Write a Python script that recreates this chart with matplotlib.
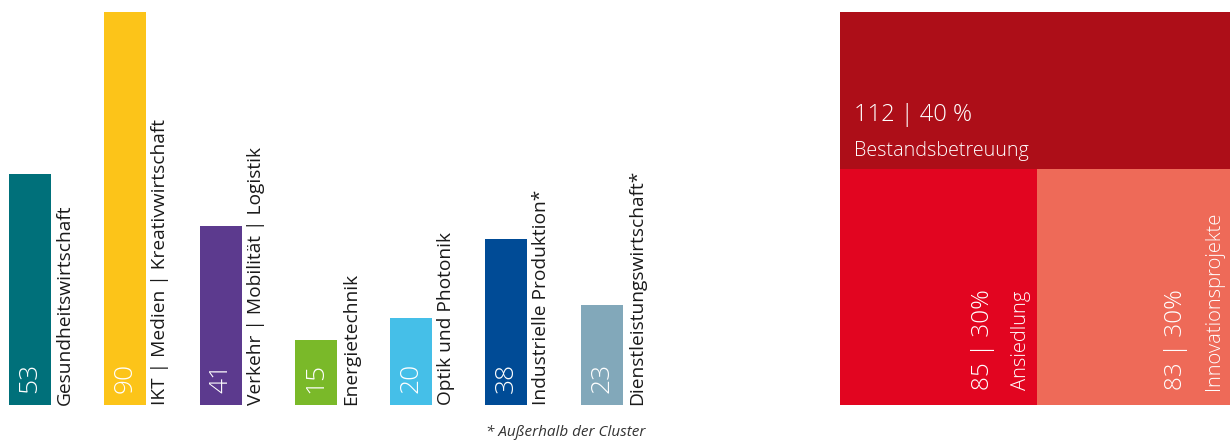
import matplotlib
matplotlib.use("Agg")
import matplotlib.pyplot as plt
from matplotlib.patches import Rectangle

plt.rcParams['font.family'] = ['Open Sans', 'DejaVu Sans']

categories = ["Gesundheitswirtschaft", "IKT | Medien | Kreativwirtschaft",
              "Verkehr | Mobilität | Logistik", "Energietechnik",
              "Optik und Photonik", "Industrielle Produktion*",
              "Dienstleistungswirtschaft*"]
values = [53, 90, 41, 15, 20, 38, 23]
bar_colors = ["#00707A", "#FCC419", "#5C3A8E", "#7AB929", "#45BFE8",
              "#004B96", "#82A8BA"]
footnote = "* Außerhalb der Cluster"

tm_labels = ["Bestandsbetreuung", "Ansiedlung", "Innovationsprojekte"]
tm_values = [112, 85, 83]
tm_pct = ["40 %", "30%", "30%"]
tm_colors = ["#AD0E18", "#E20520", "#EE6A58"]

W, H = 1230, 442
fig = plt.figure(figsize=(W / 100, H / 100), dpi=100)

def px_axes(x0, y0, x1, y1):
    # pixel coords from top-left
    return fig.add_axes([x0 / W, (H - y1) / H, (x1 - x0) / W, (y1 - y0) / H])

# ---------------- bar chart ----------------
step = 95.3
ax = px_axes(0, 12, 830, 405)
left = -30 / step
ax.set_xlim(left, left + 830 / step)
ax.set_ylim(0, 90)
ax.axis('off')
xs = list(range(len(values)))
bw = 42 / step
ax.bar(xs, values, width=bw, color=bar_colors, linewidth=0)
for i, (v, c) in enumerate(zip(values, categories)):
    ax.annotate(str(v), xy=(i, 0), xytext=(0, 12), textcoords='offset pixels',
                rotation=90, ha='center', va='bottom', color='white',
                fontsize=19, fontweight='light')
    ax.annotate(c, xy=(i + bw / 2, 0), xytext=(5, 0), textcoords='offset pixels',
                rotation=90, ha='left', va='bottom', color='#1a1a1a',
                fontsize=13.8)
fig.text(645 / W, 1 - 433 / H, footnote, ha='right', va='center',
         fontsize=11, style='italic', color='#333333')

# ---------------- treemap ----------------
tx = px_axes(840, 12, 1230, 405)
tx.set_xlim(0, 1)
tx.set_ylim(0, 1)
tx.axis('off')
total = sum(tm_values)
top_h = tm_values[0] / total
bottom_total = tm_values[1] + tm_values[2]
w1 = tm_values[1] / bottom_total
rects = [(0, 1 - top_h, 1, top_h), (0, 0, w1, 1 - top_h), (w1, 0, 1 - w1, 1 - top_h)]
for (x, y, w, h), c in zip(rects, tm_colors):
    tx.add_patch(Rectangle((x, y), w, h, facecolor=c, edgecolor='none'))

# top label
x0, y0, w0, h0 = rects[0]
tx.annotate(f"{tm_values[0]} | {tm_pct[0]}", xy=(x0, y0), xytext=(14, 48),
            textcoords='offset pixels', ha='left', va='baseline', color='white',
            fontsize=17, fontweight='light')
tx.annotate(tm_labels[0], xy=(x0, y0), xytext=(14, 13),
            textcoords='offset pixels', ha='left', va='baseline', color='white',
            fontsize=14.2, fontweight='light')
for k in (1, 2):
    x, y, w, h = rects[k]
    tx.annotate(f"{tm_values[k]} | {tm_pct[k]}", xy=(x + w, 0), xytext=(-54, 15),
                textcoords='offset pixels', ha='center', va='bottom', rotation=90,
                color='white', fontsize=17.5, fontweight='light')
    tx.annotate(tm_labels[k], xy=(x + w, 0), xytext=(-16, 15),
                textcoords='offset pixels', ha='center', va='bottom', rotation=90,
                color='white', fontsize=14.5, fontweight='light')

fig.savefig("out.png", dpi=100)
